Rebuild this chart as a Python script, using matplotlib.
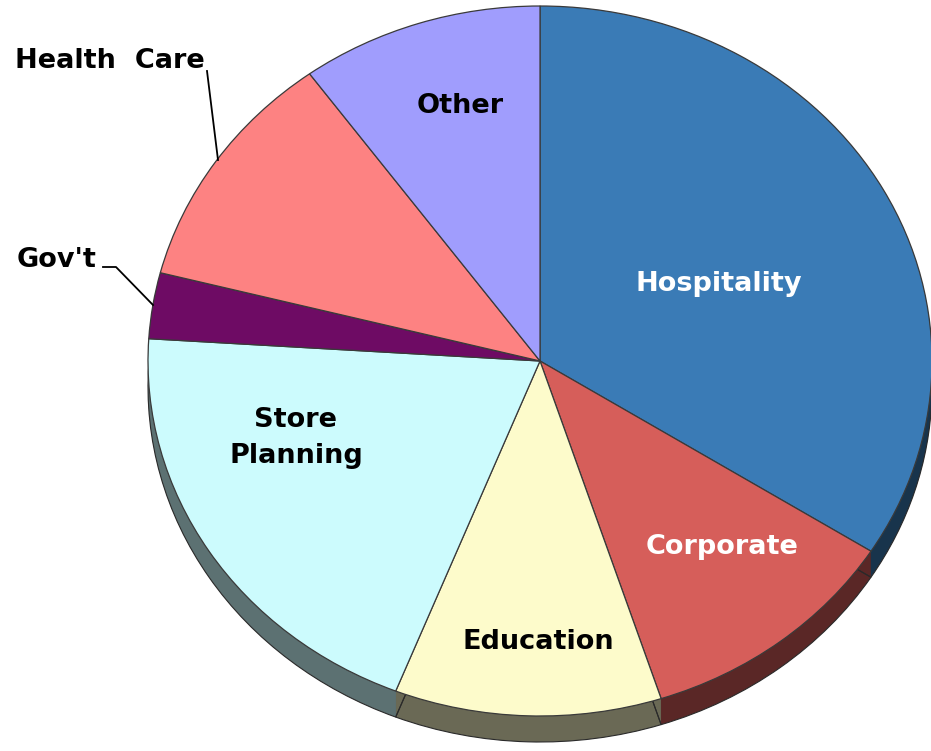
import matplotlib
matplotlib.use("Agg")
import matplotlib.pyplot as plt
import numpy as np
from matplotlib.colors import to_rgb

# ---- data ----
categories = ["Hospitality", "Corporate", "Education", "Store\nPlanning", "Gov't", "Health  Care", "Other"]
values = [34, 11, 11, 20, 3, 11, 10]
colors = ["#3a7bb6", "#d65e5a", "#fdfbcb", "#ccfbfd", "#6e0b64", "#fd8282", "#a09dfd"]
text_colors = ["white", "white", "black", "black", "black", "black", "black"]

# ---- geometry (pixels of the reference) ----
W, H = 931, 751
cx, cy = 540, 361          # pie centre in pixels
rx, ry = 392, 355          # ellipse radii in pixels
depth = 26                 # thickness of the 3D rim in pixels

fig = plt.figure(figsize=(W / 100, H / 100), dpi=100)
ax = fig.add_axes([0, 0, 1, 1])


def darker(c, f):
    r, g, b = to_rgb(c)
    return (r * f, g * f, b * f)


side_colors = [darker(c, 0.42) for c in colors]
side_colors[3] = darker(colors[3], 0.45)

# rim: stack of pies shifted down
for k in range(depth, 0, -1):
    dy = -k / ry
    ax.pie(values, colors=side_colors, startangle=90, counterclock=False,
           center=(0, dy), radius=1.0, frame=True,
           wedgeprops=dict(linewidth=0, antialiased=True))

# outline of bottom rim
ax.pie(values, colors=["none"] * len(values), startangle=90, counterclock=False,
       center=(0, -depth / ry), radius=1.0, frame=True,
       wedgeprops=dict(linewidth=0.8, edgecolor="#2a2a2a", fill=False))

# top surface
ax.pie(values, colors=colors, startangle=90, counterclock=False,
       center=(0, 0), radius=1.0, frame=True,
       wedgeprops=dict(linewidth=0.9, edgecolor="#3a3a3a"))


def px(x, y):
    return ((x - cx) / rx, (cy - y) / ry)


# label positions (pixel coords in the reference)
label_pos = [(719, 284), (722, 547), (538, 642), (296, 438), (57, 260), (110, 61), (460, 106)]
for lab, (x, y), tc in zip(categories, label_pos, text_colors):
    ax.text(*px(x, y), lab, ha="center", va="center", fontsize=19.5,
            fontweight="bold", color=tc, family="DejaVu Sans", linespacing=1.5)

# leader lines
hc = np.array([px(207, 71), px(218, 160)])
ax.plot(hc[:, 0], hc[:, 1], color="black", lw=1.3)
gv = np.array([px(103, 267), px(116, 267), px(153, 305)])
ax.plot(gv[:, 0], gv[:, 1], color="black", lw=1.3)

ax.set_aspect("auto")
ax.set_xlim(-cx / rx, (W - cx) / rx)
ax.set_ylim((cy - H) / ry, cy / ry)
ax.axis("off")

fig.savefig("out.png", dpi=100, facecolor="white")
